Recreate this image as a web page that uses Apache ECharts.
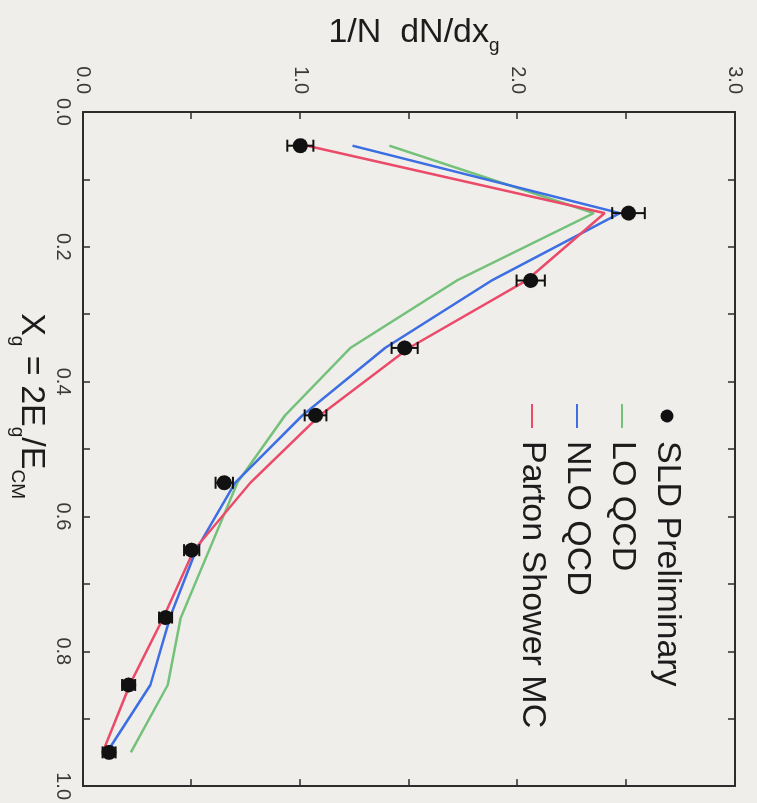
<!DOCTYPE html>
<html>
<head>
<meta charset="utf-8">
<script src="https://cdn.jsdelivr.net/npm/echarts@6/dist/echarts.min.js"></script>
<style>
  html, body {
    margin: 0;
    padding: 0;
    width: 757px;
    height: 803px;
    overflow: hidden;
    background: #f0eeeb;
  }
  /* the chart is drawn upright (803 x 757) then turned a quarter clockwise */
  #chart {
    position: absolute;
    left: 0;
    top: 0;
    width: 803px;
    height: 757px;
    transform-origin: 0 0;
    transform: translate(757px, 0) rotate(90deg);
  }
</style>
</head>
<body>
<div id="chart"></div>
<script>
// bin centres of x_g = 2E_g/E_CM
var xg = [0.05, 0.15, 0.25, 0.35, 0.45, 0.55, 0.65, 0.75, 0.85, 0.95];
// SLD preliminary data, 1/N dN/dx_g, with errors
var sldVal = [1.00, 2.51, 2.06, 1.48, 1.07, 0.65, 0.50, 0.38, 0.21, 0.12];
var sldErr = [0.06, 0.075, 0.065, 0.06, 0.05, 0.04, 0.035, 0.03, 0.03, 0.03];
// predictions
var loQcd = [1.41, 2.35, 1.72, 1.23, 0.93, 0.71, 0.58, 0.45, 0.39, 0.22];
var nloQcd = [1.24, 2.47, 1.88, 1.39, 1.01, 0.70, 0.52, 0.40, 0.31, 0.11];
var partonShower = [1.03, 2.40, 2.04, 1.50, 1.09, 0.77, 0.51, 0.37, 0.215, 0.09];

var frameColor = '#2e2c2c';
var labelFont = 'Liberation Sans';

function pairs(vals) {
  return xg.map(function (x, i) { return [x, vals[i]]; });
}

function frameAxis(extra) {
  var base = {
    type: 'value',
    splitLine: { show: false },
    axisLine: { show: true, onZero: false, lineStyle: { color: frameColor, width: 2 } },
    axisTick: { show: true, inside: true, length: 7, lineStyle: { color: frameColor, width: 1.5 } },
    minorTick: { show: true, splitNumber: 2, length: 7, lineStyle: { color: frameColor, width: 1.5 } },
    axisLabel: { show: false }
  };
  return Object.assign(base, extra);
}

var titleRich = {
  a: { fontFamily: labelFont, fontSize: 34, lineHeight: 38, verticalAlign: 'top', color: '#1c1c1c' },
  s: { fontFamily: labelFont, fontSize: 19, lineHeight: 22, padding: [21, 0, 0, 0], verticalAlign: 'top', color: '#1c1c1c' }
};

var chart = echarts.init(document.getElementById('chart'), null, { renderer: 'canvas' });

var option = {
  backgroundColor: '#f0eeeb',
  animation: false,
  grid: { left: 112, right: 15, top: 22, bottom: 83 },
  legend: {
    orient: 'vertical',
    left: 398,
    top: 68,
    itemGap: 11,
    itemWidth: 24,
    itemHeight: 13,
    textStyle: { fontFamily: labelFont, fontSize: 34, color: '#1c1c1c', padding: [0, 0, 0, 8] },
    data: [
      { name: 'SLD Preliminary', icon: 'circle' },
      { name: 'LO QCD', itemStyle: { opacity: 0 } },
      { name: 'NLO QCD', itemStyle: { opacity: 0 } },
      { name: 'Parton Shower MC', itemStyle: { opacity: 0 } }
    ]
  },
  xAxis: [
    frameAxis({
      min: 0, max: 1, interval: 0.2, position: 'bottom',
      axisLabel: {
        show: true, margin: 10, fontSize: 20, fontFamily: labelFont, color: '#3a3a3a',
        formatter: function (v) { return v.toFixed(1); }
      },
      name: '{a|X}{s|g}{a| = 2E}{s|g}{a|/E}{s|CM}',
      nameLocation: 'middle',
      nameGap: 32,
      nameTextStyle: { padding: [0, 86, 0, 0], rich: titleRich }
    }),
    frameAxis({ min: 0, max: 1, interval: 0.2, position: 'top' })
  ],
  yAxis: [
    frameAxis({
      min: 0, max: 3, interval: 1, position: 'left',
      axisLabel: {
        show: true, margin: 18, fontSize: 20, fontFamily: labelFont, color: '#3a3a3a',
        formatter: function (v) { return v.toFixed(1); }
      },
      name: '{a|1/N  dN/dx}{s|g}',
      nameLocation: 'middle',
      nameGap: 52,
      nameTextStyle: { padding: [0, 0, 0, 10], rich: titleRich }
    }),
    frameAxis({ min: 0, max: 3, interval: 1, position: 'right' })
  ],
  series: [
    {
      name: 'LO QCD',
      type: 'line',
      data: pairs(loQcd),
      symbol: 'none',
      color: '#74c17a',
      lineStyle: { width: 2.5, color: '#74c17a' },
      z: 3
    },
    {
      name: 'NLO QCD',
      type: 'line',
      data: pairs(nloQcd),
      symbol: 'none',
      color: '#3d6fe3',
      lineStyle: { width: 2.5, color: '#3d6fe3' },
      z: 3
    },
    {
      name: 'Parton Shower MC',
      type: 'line',
      data: pairs(partonShower),
      symbol: 'none',
      color: '#eb4a68',
      lineStyle: { width: 2.5, color: '#eb4a68' },
      z: 3
    },
    {
      name: 'errors',
      type: 'custom',
      data: xg.map(function (x, i) { return [x, sldVal[i], sldErr[i]]; }),
      encode: { x: 0, y: 1 },
      z: 4,
      renderItem: function (params, api) {
        var x = api.value(0), y = api.value(1), e = api.value(2);
        var lo = api.coord([x, y - e]);
        var hi = api.coord([x, y + e]);
        var c = 6;
        var st = { stroke: '#111', lineWidth: 2 };
        return {
          type: 'group',
          children: [
            { type: 'line', shape: { x1: lo[0], y1: lo[1], x2: hi[0], y2: hi[1] }, style: st },
            { type: 'line', shape: { x1: lo[0] - c, y1: lo[1], x2: lo[0] + c, y2: lo[1] }, style: st },
            { type: 'line', shape: { x1: hi[0] - c, y1: hi[1], x2: hi[0] + c, y2: hi[1] }, style: st }
          ]
        };
      }
    },
    {
      name: 'SLD Preliminary',
      type: 'scatter',
      data: pairs(sldVal),
      symbol: 'circle',
      symbolSize: 15,
      color: '#111',
      itemStyle: { color: '#111', opacity: 1 },
      z: 5
    }
  ]
};

chart.setOption(option);
</script>
</body>
</html>
